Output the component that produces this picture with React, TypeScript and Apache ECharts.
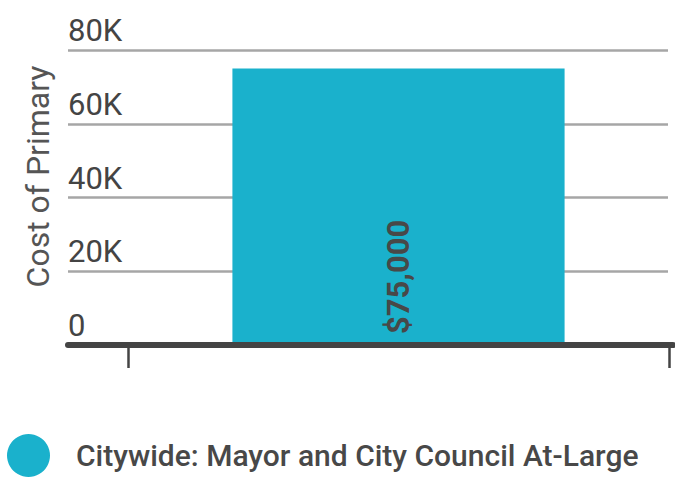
import React, { useEffect, useRef } from "react";
import * as echarts from "echarts";

const categories = ["Citywide: Mayor and City Council At-Large"];
const costValues = [75000];
const tickLabels = ["0", "20K", "40K", "60K", "80K"];
const valueLabels = ["$75,000"];

const TEXT = "#484848";
const BAR = "#1ab1cc";
const FONT = "Roboto";

export default function App() {
  const ref = useRef<HTMLDivElement>(null);
  useEffect(() => {
    document.body.style.margin = "0";
    const chart = echarts.init(ref.current!, null, { renderer: "svg" });
    const top = 50;
    const bottom = 137;
    chart.setOption({
      animation: false,
      grid: [
        { left: 68, right: 7, top, bottom },
        { left: 128, right: 6, top, bottom },
        { left: 68, right: 2, top, bottom },
      ],
      legend: {
        left: 2,
        top: 429,
        icon: "circle",
        itemWidth: 43,
        itemHeight: 43,
        data: [categories[0]],
        textStyle: {
          fontFamily: FONT,
          fontSize: 30,
          fontWeight: 500,
          color: TEXT,
          padding: [0, 0, 0, 21],
        },
      },
      xAxis: [
        { type: "category", gridIndex: 0, data: categories, show: false },
        {
          type: "category",
          gridIndex: 1,
          data: categories,
          boundaryGap: true,
          axisLine: { show: false },
          axisTick: { show: true, length: 23, lineStyle: { width: 2.5, color: "#444" } },
          axisLabel: { show: false },
        },
        {
          type: "category",
          gridIndex: 2,
          data: categories,
          z: 5,
          axisLine: { show: true, lineStyle: { width: 6, color: "#444" } },
          axisTick: { show: false },
          axisLabel: { show: false },
        },
      ],
      yAxis: [
        {
          type: "value",
          gridIndex: 0,
          min: 0,
          max: 80000,
          interval: 20000,
          name: "Cost of Primary",
          nameLocation: "middle",
          nameGap: 14,
          nameTextStyle: {
            fontFamily: FONT,
            fontSize: 32,
            color: "#555",
            padding: [0, 0, 0, 42],
          },
          axisLine: { show: false },
          axisTick: { show: false },
          splitLine: { show: true, lineStyle: { color: "#a6a6a6", width: 2.5 } },
          axisLabel: {
            inside: true,
            margin: 0,
            verticalAlign: "bottom",
            padding: [0, 0, 4, 0],
            fontFamily: FONT,
            fontSize: 31,
            color: "#444",
            formatter: (_v: number, i: number) => tickLabels[i],
          },
        },
        { type: "value", gridIndex: 1, min: 0, max: 80000, show: false },
        { type: "value", gridIndex: 2, min: 0, max: 80000, show: false },
      ],
      series: [
        {
          name: categories[0],
          type: "bar",
          xAxisIndex: 1,
          yAxisIndex: 1,
          data: costValues,
          barWidth: "61.4%",
          itemStyle: { color: BAR },
          label: {
            show: true,
            position: "insideBottom",
            rotate: 90,
            align: "left",
            verticalAlign: "middle",
            distance: 11,
            fontFamily: FONT,
            fontSize: 31,
            fontWeight: "bold",
            color: TEXT,
            formatter: (p: any) => valueLabels[p.dataIndex],
          },
        },
      ],
    });
    return () => chart.dispose();
  }, []);
  return <div ref={ref} style={{ width: 675, height: 482 }} />;
}
